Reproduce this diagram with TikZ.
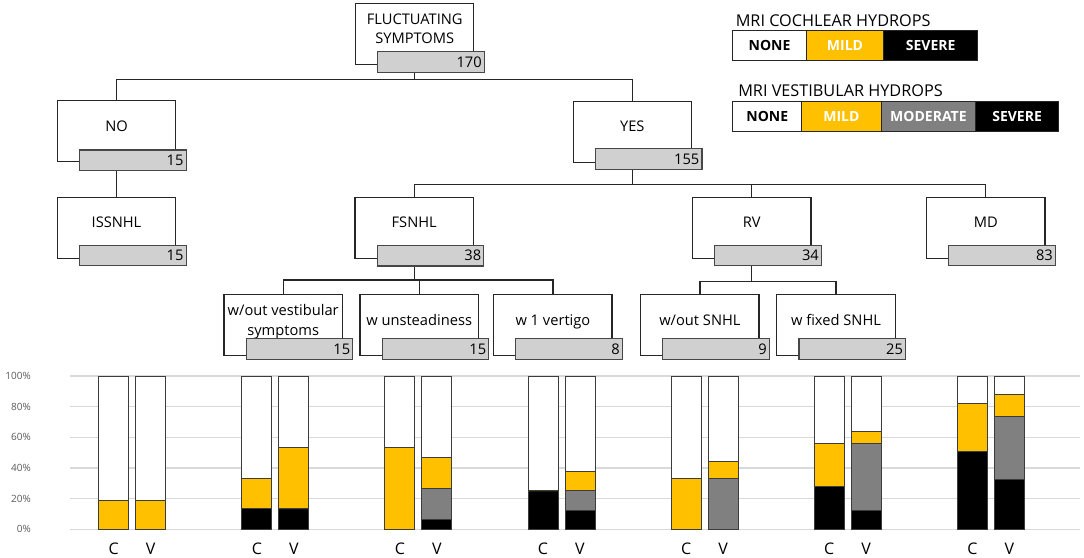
\documentclass[tikz,border=0pt]{standalone}
\usepackage{fontspec}
\setmainfont{Open Sans}
\usetikzlibrary{positioning}
\definecolor{mild}{RGB}{255,192,0}
\definecolor{moder}{RGB}{128,128,128}
\definecolor{cntgray}{RGB}{208,208,208}
\definecolor{gridc}{RGB}{217,217,217}
\definecolor{axisc}{RGB}{89,89,89}
\definecolor{linec}{RGB}{38,38,38}

\tikzset{
  box/.style={draw=linec, line width=0.9pt, fill=white, minimum width=88.7pt, minimum height=45.8pt,
    inner sep=1pt, align=center, text depth=8pt, font=\fontsize{11}{14.5}\selectfont},
  count/.style={draw=linec!85, line width=0.9pt, fill=cntgray, minimum height=15.5pt, text width=76pt,
    inner xsep=2pt, inner ysep=0pt, align=right, anchor=south east, font=\fontsize{11}{12}\selectfont},
  link/.style={draw=linec, line width=0.9pt},
  seg/.style={draw=linec, line width=0.6pt, minimum height=23pt, inner sep=0pt, outer sep=0pt,
    font=\fontsize{10.5}{12}\selectfont\bfseries},
  head/.style={anchor=base west, inner sep=0pt, font=\fontsize{12.2}{14}\selectfont},
  grid/.style={draw=gridc, line width=1pt},
  bar/.style={draw=linec!90, line width=0.75pt},
  axislbl/.style={anchor=east, inner sep=0pt, text=axisc, font=\fontsize{7.5}{9}\selectfont},
  cv/.style={inner sep=0pt, font=\fontsize{12}{14}\selectfont}
}

\begin{document}
\begin{tikzpicture}[x=0.75pt,y=-0.75pt]
\useasboundingbox (0,0) rectangle (1084,557);

%tree
\node[box] (top) at (414.7,33.7) {FLUCTUATING\\SYMPTOMS};
\node[count] (top-n) at ([shift={(10.5,8)}]top.south east) {170};

\node[box] (no) at (116.5,131.2) {NO};
\node[count] (no-n) at ([shift={(10.5,9)}]no.south east) {15};
\node[box] (yes) at (632.3,131.7) {YES};
\node[count] (yes-n) at ([shift={(10.5,7)}]yes.south east) {155};

\node[box] (iss) at (116.5,227.8) {ISSNHL};
\node[count] (iss-n) at ([shift={(10.5,7.5)}]iss.south east) {15};
\node[box] (fs) at (414.2,228) {FSNHL};
\node[count] (fs-n) at ([shift={(10.5,7.5)}]fs.south east) {38};
\node[box] (rv) at (751.8,227.8) {RV};
\node[count] (rv-n) at ([shift={(10.5,7.5)}]rv.south east) {34};
\node[box] (md) at (985.8,227.8) {MD};
\node[count] (md-n) at ([shift={(10.5,7.5)}]md.south east) {83};

\node[box] (wovest) at (283.2,325.1) {w/out vestibular\\symptoms};
\node[count] (wovest-n) at ([shift={(10.5,3.6)}]wovest.south east) {15};
\node[box] (wunst) at (419.2,325.1) {w unsteadiness};
\node[count] (wunst-n) at ([shift={(10.5,3.6)}]wunst.south east) {15};
\node[box] (wvert) at (552.9,325.1) {w 1 vertigo};
\node[count] (wvert-n) at ([shift={(10.5,3.6)}]wvert.south east) {8};
\node[box] (wosnhl) at (699.9,325.1) {w/out SNHL};
\node[count] (wosnhl-n) at ([shift={(10.5,3.6)}]wosnhl.south east) {9};
\node[box] (wfixed) at (836,325.1) {w fixed SNHL};
\node[count] (wfixed-n) at ([shift={(10.5,3.6)}]wfixed.south east) {25};

%links
\draw[link] (top |- top-n.south) -- +(0,6.3) coordinate (b1);
\draw[link] (no.north) |- (b1) -| (yes.north);
\draw[link] (no |- no-n.south) -- (iss.north);
\draw[link] (yes |- yes-n.south) -- +(0,14.3) coordinate (b2);
\draw[link] (fs.north) |- (b2) -| (md.north);
\draw[link] (rv.north) -- (rv.north |- b2);
\draw[link] (fs |- fs-n.south) -- +(0,13.3) coordinate (b3);
\draw[link] (wovest.north) |- (b3) -| (wvert.north);
\draw[link] (wunst.north) -- (wunst.north |- b3);
\draw[link] (rv |- rv-n.south) -- +(0,15) coordinate (b4);
\draw[link] (wosnhl.north) |- (b4) -| (wfixed.north);

%legend
\node[head] (cochl) at (735.5,26) {MRI COCHLEAR HYDROPS};
\node[seg, anchor=west, minimum width=55.2pt, fill=white] (c-none) at (732.7,45.5) {NONE};
\node[seg, right=0pt of c-none, minimum width=58pt, fill=mild, text=white] (c-mild) {MILD};
\node[seg, right=0pt of c-mild, minimum width=70.5pt, fill=black, text=white] (c-sev) {SEVERE};

\node[head] (vest) at (738,96.7) {MRI VESTIBULAR HYDROPS};
\node[seg, anchor=west, minimum width=51.8pt, fill=white] (v-none) at (732.7,116.3) {NONE};
\node[seg, right=0pt of v-none, minimum width=59.5pt, fill=mild, text=white] (v-mild) {MILD};
\node[seg, right=0pt of v-mild, minimum width=71pt, fill=moder, text=white] (v-mod) {MODERATE};
\node[seg, right=0pt of v-mod, minimum width=62pt, fill=black, text=white] (v-sev) {SEVERE};

%bars
\begin{scope}[shift={(0,529.3)},yscale=-1.533]
\foreach \p in {0,20,...,100} {
  \draw[grid] (70,\p) -- (1080,\p);
  \node[axislbl] (tick\p) at (31,\p) {\p\%};
}
\foreach \i/\cb/\cy/\vb/\vg/\vy in {0/0/18.7/0/0/18.7, 1/13.3/33.3/13.3/13.3/53.3,
    2/0/53.3/6.7/26.7/46.7, 3/25/25/12.5/25/37.5, 4/0/33.3/0/33.3/44.4,
    5/28/56/12/56/64, 6/50.6/81.9/32.5/73.5/88} {
  \pgfmathsetmacro\xc{98.7+143.1*\i}
  \pgfmathsetmacro\xv{\xc+37}
  % C
  \draw[bar, fill=black] (\xc,0) rectangle +(30,\cb);
  \draw[bar, fill=mild] (\xc,\cb) rectangle +(30,{\cy-\cb});
  \draw[bar, fill=white] (\xc,\cy) rectangle (\xc+30,100);
  % V
  \draw[bar, fill=black] (\xv,0) rectangle +(30,\vb);
  \draw[bar, fill=moder] (\xv,\vb) rectangle +(30,{\vg-\vb});
  \draw[bar, fill=mild] (\xv,\vg) rectangle +(30,{\vy-\vg});
  \draw[bar, fill=white] (\xv,\vy) rectangle (\xv+30,100);
  \node[cv] (c\i) at (\xc+15,-12.4) {C};
  \node[cv] (v\i) at (\xv+15,-12.4) {V};
}
\end{scope}

\end{tikzpicture}
\end{document}
